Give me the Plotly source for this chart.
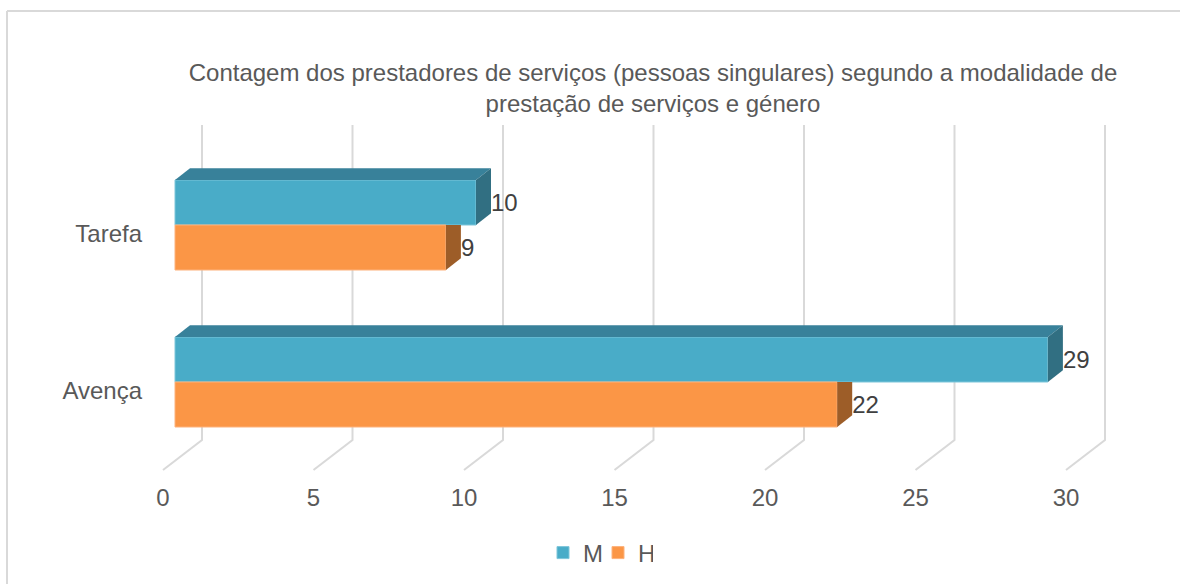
import plotly.graph_objects as go

categories = ["Tarefa", "Avença"]
series_names = ["M", "H"]
values_m = [10, 29]
values_h = [9, 22]
x_ticks = [0, 5, 10, 15, 20, 25, 30]
title = ("Contagem dos prestadores de serviços (pessoas singulares) segundo a modalidade de"
         "<br>prestação de serviços e género")

C_M, C_H = "#49acc8", "#fb9646"
C_M_TOP, C_M_SIDE, C_H_SIDE = "#38819a", "#316f82", "#9d5d28"
C_GRID = "#d9d9d9"

W, H = 1180, 584
L, R, T, B = 150, 60, 120, 109   # plot area margins
PX_X = 30.1                      # px per x unit
PX_Y = 157.0                     # px per category
Y0 = 225.0                       # pixel row of the first category
BAR_ZERO, TICK_ZERO = 175.0, 163.0
BAR_H = 45 / PX_Y
DX, DY = 15 / PX_X, 11.7 / PX_Y
WALL_DX = (202 - 175) / PX_X
FLOOR_DX = (163 - 175) / PX_X
WALL_TOP, WALL_BOTTOM, FLOOR_FRONT = (125 - Y0) / PX_Y, (440 - Y0) / PX_Y, (470 - Y0) / PX_Y
LABEL_SHIFT = 8.5 / PX_Y
VALUE_SHIFT = 2 / PX_Y

ypos = list(range(len(categories)))
x_range = [(L - BAR_ZERO) / PX_X, (W - R - BAR_ZERO) / PX_X]
x2_range = [(L - TICK_ZERO) / PX_X, (W - R - TICK_ZERO) / PX_X]
y_range = [(H - B - Y0) / PX_Y, (T - Y0) / PX_Y]

fig = go.Figure()
fig.add_bar(y=ypos, x=values_m, name=series_names[0], orientation="h",
            marker=dict(color=C_M, line=dict(color="#7fc6da", width=1)), hoverinfo="x+name")
fig.add_bar(y=ypos, x=values_h, name=series_names[1], orientation="h",
            marker=dict(color=C_H, line=dict(color="#fdb27c", width=1)), hoverinfo="x+name")


def face(xs, ys, color):
    fig.add_scatter(x=xs, y=ys, mode="lines", fill="toself", fillcolor=color,
                    line=dict(width=0, color=color), showlegend=False, hoverinfo="skip")


for i, (m, h) in enumerate(zip(values_m, values_h)):
    top, split, bottom = i - BAR_H, i, i + BAR_H
    face([0, DX, m + DX, m], [top, top - DY, top - DY, top], C_M_TOP)
    face([m, m + DX, m + DX, m], [top, top - DY, split - DY, split], C_M_SIDE)
    face([h, h + DX, h + DX, h], [split, split, bottom - DY, bottom], C_H_SIDE)

fig.add_scatter(x=[v + DX for v in values_m], y=[i - BAR_H / 2 + VALUE_SHIFT for i in ypos], mode="text",
                text=[str(v) for v in values_m], textposition="middle right",
                textfont=dict(size=24, color="#404040"), showlegend=False, hoverinfo="skip")
fig.add_scatter(x=[v + DX for v in values_h], y=[i + BAR_H / 2 + VALUE_SHIFT for i in ypos], mode="text",
                text=[str(v) for v in values_h], textposition="middle right",
                textfont=dict(size=24, color="#404040"), showlegend=False, hoverinfo="skip")
# anchors the tick axis, which sits where the chart floor meets the viewer
fig.add_scatter(x=x_ticks, y=[0] * len(x_ticks), xaxis="x2", mode="markers",
                marker=dict(opacity=0), showlegend=False, hoverinfo="skip")

shapes = []
for v in x_ticks:
    shapes.append(dict(
        type="path", layer="below", xref="x", yref="y",
        path=f"M {v + WALL_DX} {WALL_TOP} L {v + WALL_DX} {WALL_BOTTOM} L {v + FLOOR_DX} {FLOOR_FRONT}",
        line=dict(color=C_GRID, width=2)))
# frame of the chart: only its left and top edges fall inside the picture
pw, ph = W - L - R, H - T - B
frame_left, frame_top = (7 - L) / pw, 1 + (T - 11) / ph
shapes.append(dict(type="line", layer="below", xref="paper", yref="paper",
                   x0=frame_left, x1=frame_left, y0=-B / ph, y1=frame_top,
                   line=dict(color=C_GRID, width=2)))
shapes.append(dict(type="line", layer="below", xref="paper", yref="paper",
                   x0=frame_left, x1=1 + R / pw, y0=frame_top, y1=frame_top,
                   line=dict(color=C_GRID, width=2)))

fig.update_layout(
    width=W, height=H, barmode="group", bargap=1 - 2 * BAR_H, bargroupgap=0,
    margin=dict(l=L, r=R, t=T, b=B, pad=0), paper_bgcolor="white", plot_bgcolor="white",
    font=dict(family="Liberation Sans, Arial, sans-serif", size=24, color="#595959"),
    title=dict(text=title, x=653 / W, xanchor="center", y=1 - 81 / H, yanchor="top",
               font=dict(size=24, color="#595959")),
    xaxis=dict(range=x_range, visible=False, showgrid=False, zeroline=False, fixedrange=True),
    xaxis2=dict(range=x2_range, overlaying="x", side="bottom", anchor="y", tickmode="array",
                tickvals=x_ticks, ticktext=[str(v) for v in x_ticks], showgrid=False, zeroline=False,
                showline=False, ticks="", ticklabelstandoff=6, tickfont=dict(size=24, color="#595959")),
    yaxis=dict(range=y_range, tickmode="array", tickvals=[i + LABEL_SHIFT for i in ypos],
               ticktext=categories, showgrid=False, zeroline=False, showline=False, ticks="",
               ticklabelstandoff=7, tickfont=dict(size=24, color="#595959"), fixedrange=True),
    legend=dict(orientation="h", x=543 / W, xanchor="left", y=1 - 553 / H, yanchor="middle",
                yref="container", xref="container", font=dict(size=24, color="#595959"),
                entrywidth=10, entrywidthmode="pixels", bgcolor="rgba(0,0,0,0)"),
    shapes=shapes,
)
fig.write_html("out.html", config=dict(displayModeBar=False),
               post_script="document.body.style.margin='0';document.body.style.overflow='hidden';")
